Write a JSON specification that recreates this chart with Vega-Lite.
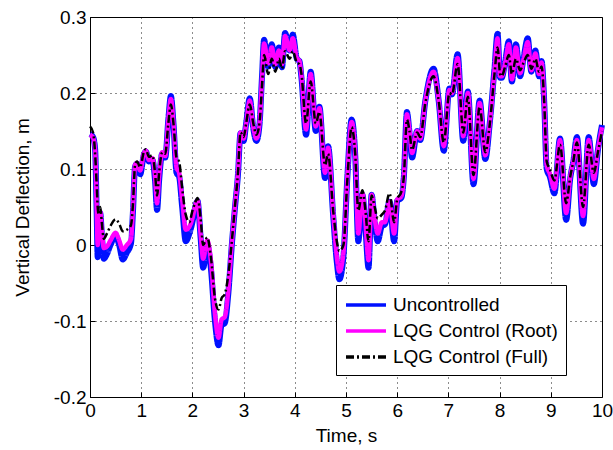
{
  "$schema": "https://vega.github.io/schema/vega-lite/v6.json",
  "width": 512,
  "height": 380,
  "autosize": {"type": "none"},
  "padding": {"left": 90, "top": 17, "right": 11, "bottom": 53},
  "background": "white",
  "config": {
    "view": {"stroke": "black", "strokeWidth": 1},
    "font": "Liberation Sans",
    "axis": {
      "labelFont": "Liberation Sans", "titleFont": "Liberation Sans",
      "labelFontSize": 19, "titleFontSize": 19, "titleFontWeight": "normal",
      "labelColor": "black", "titleColor": "black", "labelFlush": false,
      "grid": true, "gridColor": "black", "gridDash": [1, 4], "gridOpacity": 0.9, "gridWidth": 1,
      "domain": false, "tickColor": "black", "tickSize": -5
    },
    "legend": {
      "labelFont": "Liberation Sans", "labelFontSize": 19, "labelColor": "black", "labelLimit": 400,
      "symbolStrokeWidth": 3.5, "symbolType": "M-1,0H3", "symbolSize": 400, "rowPadding": 4, "labelOffset": 25
    }
  },
  "data": {
    "values": [
      {"t": 0.00, "r": 0.145, "u": 0.146, "f": 0.156},
      {"t": 0.06, "r": 0.141, "u": 0.142, "f": 0.148},
      {"t": 0.10, "r": 0.125, "u": 0.126, "f": 0.12},
      {"t": 0.13, "r": 0.05, "u": 0.045, "f": 0.08},
      {"t": 0.15, "r": 0.0, "u": -0.016, "f": 0.05},
      {"t": 0.17, "r": 0.02, "u": 0.01, "f": 0.04},
      {"t": 0.20, "r": 0.044, "u": 0.042, "f": 0.05},
      {"t": 0.23, "r": 0.02, "u": 0.015, "f": 0.03},
      {"t": 0.27, "r": -0.004, "u": -0.018, "f": 0.008},
      {"t": 0.33, "r": -0.002, "u": -0.012, "f": 0.015},
      {"t": 0.40, "r": 0.006, "u": 0.0, "f": 0.025},
      {"t": 0.50, "r": 0.016, "u": 0.012, "f": 0.034},
      {"t": 0.57, "r": 0.006, "u": 0.0, "f": 0.028},
      {"t": 0.64, "r": -0.006, "u": -0.019, "f": 0.018},
      {"t": 0.72, "r": 0.0, "u": -0.01, "f": 0.02},
      {"t": 0.80, "r": 0.008, "u": 0.002, "f": 0.026},
      {"t": 0.84, "r": 0.05, "u": 0.045, "f": 0.055},
      {"t": 0.88, "r": 0.105, "u": 0.103, "f": 0.105},
      {"t": 0.92, "r": 0.108, "u": 0.107, "f": 0.11},
      {"t": 0.98, "r": 0.098, "u": 0.093, "f": 0.102},
      {"t": 1.05, "r": 0.12, "u": 0.118, "f": 0.122},
      {"t": 1.09, "r": 0.124, "u": 0.123, "f": 0.126},
      {"t": 1.15, "r": 0.112, "u": 0.11, "f": 0.116},
      {"t": 1.22, "r": 0.114, "u": 0.112, "f": 0.118},
      {"t": 1.27, "r": 0.09, "u": 0.085, "f": 0.095},
      {"t": 1.31, "r": 0.055, "u": 0.046, "f": 0.065},
      {"t": 1.35, "r": 0.09, "u": 0.085, "f": 0.095},
      {"t": 1.41, "r": 0.122, "u": 0.12, "f": 0.122},
      {"t": 1.47, "r": 0.117, "u": 0.115, "f": 0.12},
      {"t": 1.53, "r": 0.165, "u": 0.165, "f": 0.16},
      {"t": 1.58, "r": 0.192, "u": 0.196, "f": 0.185},
      {"t": 1.63, "r": 0.16, "u": 0.16, "f": 0.16},
      {"t": 1.69, "r": 0.102, "u": 0.095, "f": 0.115},
      {"t": 1.74, "r": 0.095, "u": 0.09, "f": 0.11},
      {"t": 1.80, "r": 0.06, "u": 0.05, "f": 0.075},
      {"t": 1.87, "r": 0.02, "u": 0.005, "f": 0.04},
      {"t": 1.94, "r": 0.024, "u": 0.015, "f": 0.03},
      {"t": 2.00, "r": 0.035, "u": 0.03, "f": 0.045},
      {"t": 2.05, "r": 0.05, "u": 0.048, "f": 0.055},
      {"t": 2.10, "r": 0.059, "u": 0.058, "f": 0.062},
      {"t": 2.16, "r": 0.015, "u": 0.01, "f": 0.035},
      {"t": 2.21, "r": -0.018, "u": -0.03, "f": 0.0},
      {"t": 2.29, "r": 0.006, "u": 0.0, "f": 0.01},
      {"t": 2.36, "r": -0.02, "u": -0.03, "f": -0.015},
      {"t": 2.44, "r": -0.09, "u": -0.1, "f": -0.07},
      {"t": 2.51, "r": -0.122, "u": -0.132, "f": -0.085},
      {"t": 2.57, "r": -0.098, "u": -0.105, "f": -0.07},
      {"t": 2.63, "r": -0.095, "u": -0.103, "f": -0.065},
      {"t": 2.70, "r": -0.06, "u": -0.065, "f": -0.04},
      {"t": 2.77, "r": 0.003, "u": 0.0, "f": 0.005},
      {"t": 2.83, "r": 0.05, "u": 0.048, "f": 0.05},
      {"t": 2.89, "r": 0.095, "u": 0.093, "f": 0.095},
      {"t": 2.94, "r": 0.148, "u": 0.147, "f": 0.148},
      {"t": 3.00, "r": 0.14, "u": 0.137, "f": 0.142},
      {"t": 3.05, "r": 0.16, "u": 0.16, "f": 0.16},
      {"t": 3.12, "r": 0.19, "u": 0.193, "f": 0.185},
      {"t": 3.19, "r": 0.155, "u": 0.153, "f": 0.16},
      {"t": 3.25, "r": 0.14, "u": 0.137, "f": 0.145},
      {"t": 3.31, "r": 0.16, "u": 0.158, "f": 0.16},
      {"t": 3.36, "r": 0.22, "u": 0.222, "f": 0.21},
      {"t": 3.40, "r": 0.265, "u": 0.27, "f": 0.25},
      {"t": 3.48, "r": 0.239, "u": 0.235, "f": 0.225},
      {"t": 3.55, "r": 0.26, "u": 0.264, "f": 0.245},
      {"t": 3.62, "r": 0.238, "u": 0.234, "f": 0.228},
      {"t": 3.69, "r": 0.256, "u": 0.26, "f": 0.245},
      {"t": 3.75, "r": 0.238, "u": 0.234, "f": 0.232},
      {"t": 3.81, "r": 0.275, "u": 0.279, "f": 0.255},
      {"t": 3.90, "r": 0.256, "u": 0.256, "f": 0.245},
      {"t": 3.96, "r": 0.272, "u": 0.277, "f": 0.255},
      {"t": 4.04, "r": 0.246, "u": 0.245, "f": 0.24},
      {"t": 4.09, "r": 0.242, "u": 0.242, "f": 0.238},
      {"t": 4.13, "r": 0.222, "u": 0.22, "f": 0.225},
      {"t": 4.22, "r": 0.152, "u": 0.145, "f": 0.16},
      {"t": 4.31, "r": 0.225, "u": 0.228, "f": 0.215},
      {"t": 4.41, "r": 0.156, "u": 0.15, "f": 0.16},
      {"t": 4.48, "r": 0.18, "u": 0.182, "f": 0.175},
      {"t": 4.59, "r": 0.095, "u": 0.088, "f": 0.105},
      {"t": 4.65, "r": 0.128, "u": 0.13, "f": 0.12},
      {"t": 4.75, "r": 0.042, "u": 0.038, "f": 0.045},
      {"t": 4.82, "r": -0.015, "u": -0.022, "f": 0.005},
      {"t": 4.87, "r": -0.035, "u": -0.045, "f": -0.008},
      {"t": 4.95, "r": -0.01, "u": -0.015, "f": 0.0},
      {"t": 5.03, "r": 0.094, "u": 0.094, "f": 0.09},
      {"t": 5.11, "r": 0.162, "u": 0.165, "f": 0.155},
      {"t": 5.18, "r": 0.12, "u": 0.118, "f": 0.12},
      {"t": 5.24, "r": 0.015, "u": 0.005, "f": 0.045},
      {"t": 5.32, "r": 0.068, "u": 0.066, "f": 0.072},
      {"t": 5.38, "r": 0.03, "u": 0.022, "f": 0.045},
      {"t": 5.44, "r": -0.02, "u": -0.03, "f": 0.005},
      {"t": 5.50, "r": 0.066, "u": 0.066, "f": 0.065},
      {"t": 5.56, "r": 0.035, "u": 0.03, "f": 0.05},
      {"t": 5.62, "r": 0.015, "u": 0.005, "f": 0.035},
      {"t": 5.70, "r": 0.03, "u": 0.025, "f": 0.04},
      {"t": 5.76, "r": 0.03, "u": 0.027, "f": 0.045},
      {"t": 5.85, "r": 0.057, "u": 0.057, "f": 0.068},
      {"t": 5.94, "r": 0.015, "u": 0.005, "f": 0.03},
      {"t": 6.00, "r": 0.06, "u": 0.058, "f": 0.06},
      {"t": 6.08, "r": 0.064, "u": 0.062, "f": 0.07},
      {"t": 6.13, "r": 0.09, "u": 0.09, "f": 0.09},
      {"t": 6.19, "r": 0.172, "u": 0.175, "f": 0.165},
      {"t": 6.24, "r": 0.15, "u": 0.148, "f": 0.15},
      {"t": 6.29, "r": 0.121, "u": 0.115, "f": 0.125},
      {"t": 6.39, "r": 0.15, "u": 0.15, "f": 0.148},
      {"t": 6.45, "r": 0.14, "u": 0.138, "f": 0.142},
      {"t": 6.55, "r": 0.19, "u": 0.19, "f": 0.187},
      {"t": 6.71, "r": 0.228, "u": 0.232, "f": 0.222},
      {"t": 6.81, "r": 0.19, "u": 0.19, "f": 0.19},
      {"t": 6.91, "r": 0.13, "u": 0.124, "f": 0.135},
      {"t": 7.02, "r": 0.204, "u": 0.206, "f": 0.2},
      {"t": 7.07, "r": 0.2, "u": 0.198, "f": 0.198},
      {"t": 7.18, "r": 0.246, "u": 0.251, "f": 0.238},
      {"t": 7.29, "r": 0.143, "u": 0.137, "f": 0.148},
      {"t": 7.38, "r": 0.2, "u": 0.202, "f": 0.195},
      {"t": 7.49, "r": 0.087, "u": 0.08, "f": 0.092},
      {"t": 7.61, "r": 0.187, "u": 0.19, "f": 0.182},
      {"t": 7.72, "r": 0.118, "u": 0.113, "f": 0.122},
      {"t": 7.81, "r": 0.162, "u": 0.162, "f": 0.16},
      {"t": 7.90, "r": 0.23, "u": 0.232, "f": 0.225},
      {"t": 7.96, "r": 0.272, "u": 0.278, "f": 0.26},
      {"t": 8.01, "r": 0.222, "u": 0.22, "f": 0.225},
      {"t": 8.04, "r": 0.222, "u": 0.22, "f": 0.222},
      {"t": 8.11, "r": 0.24, "u": 0.242, "f": 0.235},
      {"t": 8.18, "r": 0.264, "u": 0.268, "f": 0.25},
      {"t": 8.24, "r": 0.218, "u": 0.215, "f": 0.225},
      {"t": 8.32, "r": 0.26, "u": 0.264, "f": 0.245},
      {"t": 8.40, "r": 0.226, "u": 0.222, "f": 0.23},
      {"t": 8.47, "r": 0.245, "u": 0.247, "f": 0.24},
      {"t": 8.55, "r": 0.267, "u": 0.272, "f": 0.25},
      {"t": 8.62, "r": 0.23, "u": 0.228, "f": 0.232},
      {"t": 8.70, "r": 0.252, "u": 0.256, "f": 0.245},
      {"t": 8.77, "r": 0.225, "u": 0.222, "f": 0.228},
      {"t": 8.82, "r": 0.24, "u": 0.242, "f": 0.235},
      {"t": 8.87, "r": 0.19, "u": 0.19, "f": 0.19},
      {"t": 8.92, "r": 0.105, "u": 0.1, "f": 0.11},
      {"t": 8.98, "r": 0.094, "u": 0.09, "f": 0.1},
      {"t": 9.07, "r": 0.074, "u": 0.068, "f": 0.085},
      {"t": 9.18, "r": 0.138, "u": 0.14, "f": 0.132},
      {"t": 9.30, "r": 0.042, "u": 0.033, "f": 0.055},
      {"t": 9.38, "r": 0.09, "u": 0.088, "f": 0.09},
      {"t": 9.44, "r": 0.11, "u": 0.11, "f": 0.11},
      {"t": 9.51, "r": 0.138, "u": 0.142, "f": 0.135},
      {"t": 9.63, "r": 0.038, "u": 0.028, "f": 0.05},
      {"t": 9.74, "r": 0.138, "u": 0.142, "f": 0.132},
      {"t": 9.84, "r": 0.087, "u": 0.08, "f": 0.095},
      {"t": 9.92, "r": 0.125, "u": 0.125, "f": 0.122},
      {"t": 10.00, "r": 0.155, "u": 0.158, "f": 0.15}
    ]
  },
  "transform": [{"fold": ["u", "r", "f"], "as": ["key", "value"]}],
  "encoding": {
    "x": {
      "field": "t", "type": "quantitative",
      "scale": {"domain": [0, 10], "nice": false, "zero": false},
      "axis": {"title": "Time, s", "values": [0,1,2,3,4,5,6,7,8,9,10], "labelPadding": 9, "titlePadding": 6}
    },
    "y": {
      "field": "value", "type": "quantitative",
      "scale": {"domain": [-0.2, 0.3], "nice": false, "zero": false},
      "axis": {"title": "Vertical Deflection, m", "values": [-0.2, -0.1, 0, 0.1, 0.2, 0.3],
               "labelExpr": "datum.value == 0 ? '0' : replace(datum.label, '−', '-')", "labelPadding": 9, "titlePadding": 21}
    },
    "color": {
      "field": "key", "type": "nominal",
      "scale": {"domain": ["u", "r", "f"], "range": ["#0010ff", "#ff00ff", "#000000"]},
      "legend": {
        "title": null, "orient": "none", "legendX": 246, "legendY": 268,
        "strokeColor": "black", "fillColor": "white", "padding": 8,
        "labelExpr": "datum.label == 'u' ? 'Uncontrolled' : datum.label == 'r' ? 'LQG Control (Root)' : 'LQG Control (Full)'"
      }
    },
    "strokeDash": {
      "field": "key", "type": "nominal",
      "scale": {"domain": ["u", "r", "f"], "range": [[1, 0], [1, 0], [8, 3, 2, 3]]},
      "legend": null
    }
  },
  "layer": [
    {"transform": [{"filter": "datum.key == 'u'"}], "mark": {"type": "line", "strokeWidth": 6, "interpolate": "monotone"}},
    {"transform": [{"filter": "datum.key == 'r'"}], "mark": {"type": "line", "strokeWidth": 4.5, "interpolate": "monotone"}},
    {"transform": [{"filter": "datum.key == 'f'"}], "mark": {"type": "line", "strokeWidth": 2.5, "interpolate": "monotone"}}
  ]
}
